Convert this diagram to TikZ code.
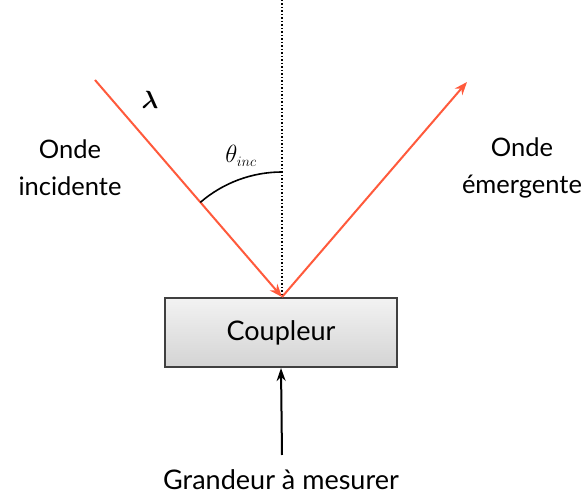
\documentclass[tikz,border=0pt]{standalone}
\usepackage{amsmath}
\usepackage{fontspec}
\setmainfont{Lato}
\usetikzlibrary{arrows.meta,calc}
\definecolor{ray}{HTML}{FF5A3C}
\tikzset{
  lbl/.style={font=\fontsize{27}{37}\selectfont, align=center, inner sep=0pt},
  side/.style={font=\fontsize{25.5}{37}\selectfont, align=center, inner sep=0pt},
  rayline/.style={draw=ray, line width=2pt, -{Stealth[length=13pt,width=10pt]}},
  blackarrow/.style={draw=black, line width=2pt, -{Stealth[length=13pt,width=9pt]}},
  boxstyle/.style={draw=black!75, line width=2pt, top color=white!95!black, bottom color=black!17, minimum width=232pt, minimum height=69pt, inner sep=0pt}
}
\begin{document}
\begin{tikzpicture}[x=1pt,y=1pt]
\useasboundingbox (0,0) rectangle (581,500);
\node[boxstyle] (box) at (281,167.5) {};
\node[lbl] (coupleur) at (281,167) {Coupleur};
\coordinate (hit) at (282,203);
\coordinate (top) at (282,500);
\coordinate (inc) at (95,420);
\coordinate (em) at (467,418);
\draw[dotted, line width=1.5pt] (top) -- (hit);
\draw[rayline] (inc) -- (hit);
\draw[rayline] (hit) -- (em);
\draw[line width=1.6pt] ($(hit)+(0,125)$) arc[start angle=90, end angle=130.8, radius=125];
\node[font=\fontsize{32}{32}\selectfont] (lambda) at (150,400) {$\boldsymbol{\lambda}$};
\node[font=\fontsize{30}{30}\selectfont] (theta) at (241,344) {$\theta_{\scriptscriptstyle inc}$};
\node[side] (incid) at (70,332) {Onde\\incidente};
\node[side] (emerg) at (522,332) {Onde\\émergente};
\node[lbl] (grand) at (281,20) {Grandeur à mesurer};
\coordinate (src) at (282,45);
\draw[blackarrow] (src) -- (box.south);
\end{tikzpicture}
\end{document}
